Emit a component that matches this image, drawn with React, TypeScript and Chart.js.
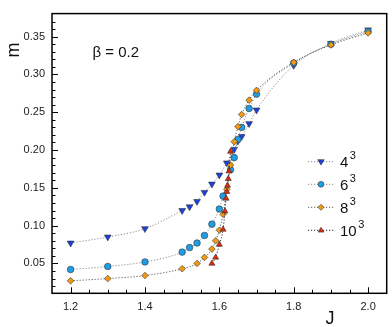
import React, { useEffect, useRef } from "react";
import { Chart, registerables } from "chart.js";
Chart.register(...registerables);

const J4 = [1.2, 1.3, 1.4, 1.5, 1.52, 1.54, 1.56, 1.58, 1.6, 1.62, 1.64, 1.65, 1.66, 1.68, 1.7, 1.8, 1.9, 2.0];
const M4 = [0.077, 0.085, 0.096, 0.12, 0.125, 0.132, 0.144, 0.155, 0.167, 0.183, 0.201, 0.212, 0.218, 0.235, 0.253, 0.312, 0.341, 0.359];

const J6 = [1.2, 1.3, 1.4, 1.5, 1.52, 1.54, 1.56, 1.58, 1.6, 1.61, 1.63, 1.64, 1.65, 1.66, 1.68, 1.7, 1.8, 1.9, 2.0];
const M6 = [0.042, 0.046, 0.052, 0.065, 0.071, 0.077, 0.087, 0.102, 0.122, 0.139, 0.174, 0.19, 0.214, 0.23, 0.255, 0.274, 0.315, 0.34, 0.357];

const J8 = [1.2, 1.3, 1.4, 1.5, 1.54, 1.56, 1.58, 1.59, 1.6, 1.61, 1.62, 1.63, 1.64, 1.65, 1.66, 1.68, 1.7, 1.8, 1.9, 2.0];
const M8 = [0.027, 0.03, 0.034, 0.043, 0.05, 0.058, 0.069, 0.08, 0.094, 0.115, 0.148, 0.18, 0.211, 0.231, 0.247, 0.266, 0.279, 0.316, 0.339, 0.355];

const J10 = [1.58, 1.59, 1.6, 1.61, 1.615, 1.618, 1.62, 1.622, 1.624, 1.626, 1.63];
const M10 = [0.05, 0.058, 0.075, 0.095, 0.119, 0.136, 0.145, 0.153, 0.162, 0.172, 0.198];

const SERIES_BASES = ["4", "6", "8", "10"];
const SERIES_EXP = "3";
const X_TICKS = [1.2, 1.4, 1.6, 1.8, 2.0];
const Y_TICKS = [0.05, 0.1, 0.15, 0.2, 0.25, 0.3, 0.35];
const ANNOTATION = "β = 0.2";
const X_TITLE = "J";
const Y_TITLE = "m";

const FONT = "'Liberation Sans', Arial, sans-serif";

const styles = [
  { fill: "#1c3fe0", line: "#8a8a8a", shape: "tridown", r: 3.9, lr: 3.4 },
  { fill: "#1e9ee6", line: "#8a8a8a", shape: "circle", r: 3.3, lr: 2.9 },
  { fill: "#f29a12", line: "#5a5a5a", shape: "diamond", r: 3.3, lr: 3.0 },
  { fill: "#e0280c", line: "#2a2a2a", shape: "triangle", r: 3.5, lr: 3.0 },
];

function mk(js: number[], ms: number[]) {
  return js.map((x, i) => ({ x, y: ms[i] }));
}

function drawMarker(ctx: CanvasRenderingContext2D, shape: string, x: number, y: number, r: number, fill: string) {
  ctx.beginPath();
  if (shape === "circle") {
    ctx.arc(x, y, r, 0, Math.PI * 2);
  } else if (shape === "diamond") {
    ctx.moveTo(x, y - r);
    ctx.lineTo(x + r, y);
    ctx.lineTo(x, y + r);
    ctx.lineTo(x - r, y);
    ctx.closePath();
  } else if (shape === "triangle") {
    ctx.moveTo(x, y - r);
    ctx.lineTo(x + r * 0.95, y + r * 0.6);
    ctx.lineTo(x - r * 0.95, y + r * 0.6);
    ctx.closePath();
  } else {
    ctx.moveTo(x, y + r);
    ctx.lineTo(x + r * 0.95, y - r * 0.6);
    ctx.lineTo(x - r * 0.95, y - r * 0.6);
    ctx.closePath();
  }
  ctx.fillStyle = fill;
  ctx.fill();
  ctx.lineWidth = 0.6;
  ctx.strokeStyle = "#333";
  ctx.stroke();
}

const deco = {
  id: "deco",
  afterDatasetsDraw(chart: any) {
    const { ctx, chartArea: a, scales } = chart;
    const xs = scales.x;
    const ys = scales.y;
    ctx.save();
    ctx.strokeStyle = "#000";
    ctx.lineWidth = 1;
    ctx.beginPath();
    for (let i = 0; ; i++) {
      const v = 1.15 + i * 0.05;
      if (v > 2.05 + 1e-9) break;
      const major = X_TICKS.some((t) => Math.abs(t - v) < 1e-6);
      const px = Math.round(xs.getPixelForValue(v)) + 0.5;
      if (px <= a.left + 1 || px >= a.right - 1) continue;
      ctx.moveTo(px, a.bottom);
      ctx.lineTo(px, a.bottom - (major ? 6 : 3.5));
    }
    for (let i = 0; ; i++) {
      const v = 0.01 + i * 0.01;
      if (v > 0.38 + 1e-9) break;
      const major = Y_TICKS.some((t) => Math.abs(t - v) < 1e-6);
      const py = Math.round(ys.getPixelForValue(v)) + 0.5;
      if (py <= a.top + 1 || py >= a.bottom - 1) continue;
      ctx.moveTo(a.left, py);
      ctx.lineTo(a.left + (major ? 6 : 3.5), py);
    }
    ctx.stroke();
    ctx.lineWidth = 1.5;
    ctx.strokeRect(a.left, a.top, a.right - a.left, a.bottom - a.top);
    ctx.restore();
  },
  afterDraw(chart: any) {
    const { ctx } = chart;
    ctx.save();
    ctx.fillStyle = "#111";
    ctx.font = `18px ${FONT}`;
    ctx.textAlign = "center";
    ctx.textBaseline = "alphabetic";
    ctx.fillText(X_TITLE, 330, 324);
    ctx.save();
    ctx.translate(18.5, 50);
    ctx.rotate(-Math.PI / 2);
    ctx.fillText(Y_TITLE, 0, 0);
    ctx.restore();
    ctx.font = `15px ${FONT}`;
    ctx.textAlign = "left";
    ctx.fillText(ANNOTATION, 92.5, 57);
    const rows = [161.7, 184.3, 207.3, 230.3];
    rows.forEach((y, i) => {
      const s = styles[i];
      ctx.save();
      ctx.strokeStyle = s.line;
      ctx.lineWidth = 1;
      ctx.setLineDash([1.2, 1.8]);
      ctx.beginPath();
      ctx.moveTo(308, y);
      ctx.lineTo(334, y);
      ctx.stroke();
      ctx.restore();
      drawMarker(ctx, s.shape, 321, y, s.lr, s.fill);
      ctx.fillStyle = "#111";
      ctx.font = `15px ${FONT}`;
      ctx.textAlign = "left";
      ctx.fillText(SERIES_BASES[i], 340, y + 5.5);
      const w = ctx.measureText(SERIES_BASES[i]).width;
      ctx.font = `11px ${FONT}`;
      ctx.fillText(SERIES_EXP, 340 + w + 1.5, y - 2.5);
    });
    ctx.restore();
  },
};

export default function App() {
  const ref = useRef<HTMLCanvasElement | null>(null);
  useEffect(() => {
    if (!ref.current) return;
    const seriesData = [mk(J4, M4), mk(J6, M6), mk(J8, M8), mk(J10, M10)];
    const chart = new Chart(ref.current, {
      type: "line",
      data: {
        datasets: seriesData.map((d, i) => {
          const s = styles[i];
          return {
            label: SERIES_BASES[i] + "³",
            data: d,
            borderColor: s.line,
            borderWidth: 1,
            borderDash: [1.2, 1.8],
            cubicInterpolationMode: "monotone" as const,
            pointStyle: s.shape === "circle" ? "circle" : s.shape === "diamond" ? "rectRot" : "triangle",
            pointRotation: s.shape === "tridown" ? 180 : 0,
            pointRadius: s.r,
            pointBackgroundColor: s.fill,
            pointBorderColor: "#333",
            pointBorderWidth: 0.6,
            fill: false,
            order: 3 - i,
          };
        }),
      },
      options: {
        animation: false,
        responsive: false,
        devicePixelRatio: 1,
        layout: { padding: { left: 0, top: 6, right: 5.3, bottom: 0 } },
        plugins: { legend: { display: false }, tooltip: { enabled: false } },
        scales: {
          x: {
            type: "linear",
            min: 1.15,
            max: 2.05,
            grid: { display: false, drawTicks: false, tickLength: 0 },
            border: { display: false },
            afterBuildTicks: (s: any) => {
              s.ticks = X_TICKS.map((v) => ({ value: v }));
            },
            afterFit: (s: any) => {
              s.height = 33.7;
            },
            ticks: {
              padding: 7,
              color: "#222",
              font: { family: FONT, size: 11 },
              maxRotation: 0,
              callback: (v: any) => Number(v).toFixed(1),
            },
          },
          y: {
            type: "linear",
            min: 0.0105,
            max: 0.3805,
            grid: { display: false, drawTicks: false, tickLength: 0 },
            border: { display: false },
            afterBuildTicks: (s: any) => {
              s.ticks = Y_TICKS.map((v) => ({ value: v }));
            },
            afterFit: (s: any) => {
              s.width = 52;
            },
            ticks: {
              padding: 7,
              color: "#222",
              font: { family: FONT, size: 11 },
              callback: (v: any) => Number(v).toFixed(2),
            },
          },
        },
      },
      plugins: [deco],
    } as any);
    return () => chart.destroy();
  }, []);
  return (
    <div style={{ position: "fixed", left: 0, top: 0, width: 392, height: 327, background: "#fff" }}>
      <canvas ref={ref} width={392} height={327} style={{ display: "block" }} />
    </div>
  );
}
